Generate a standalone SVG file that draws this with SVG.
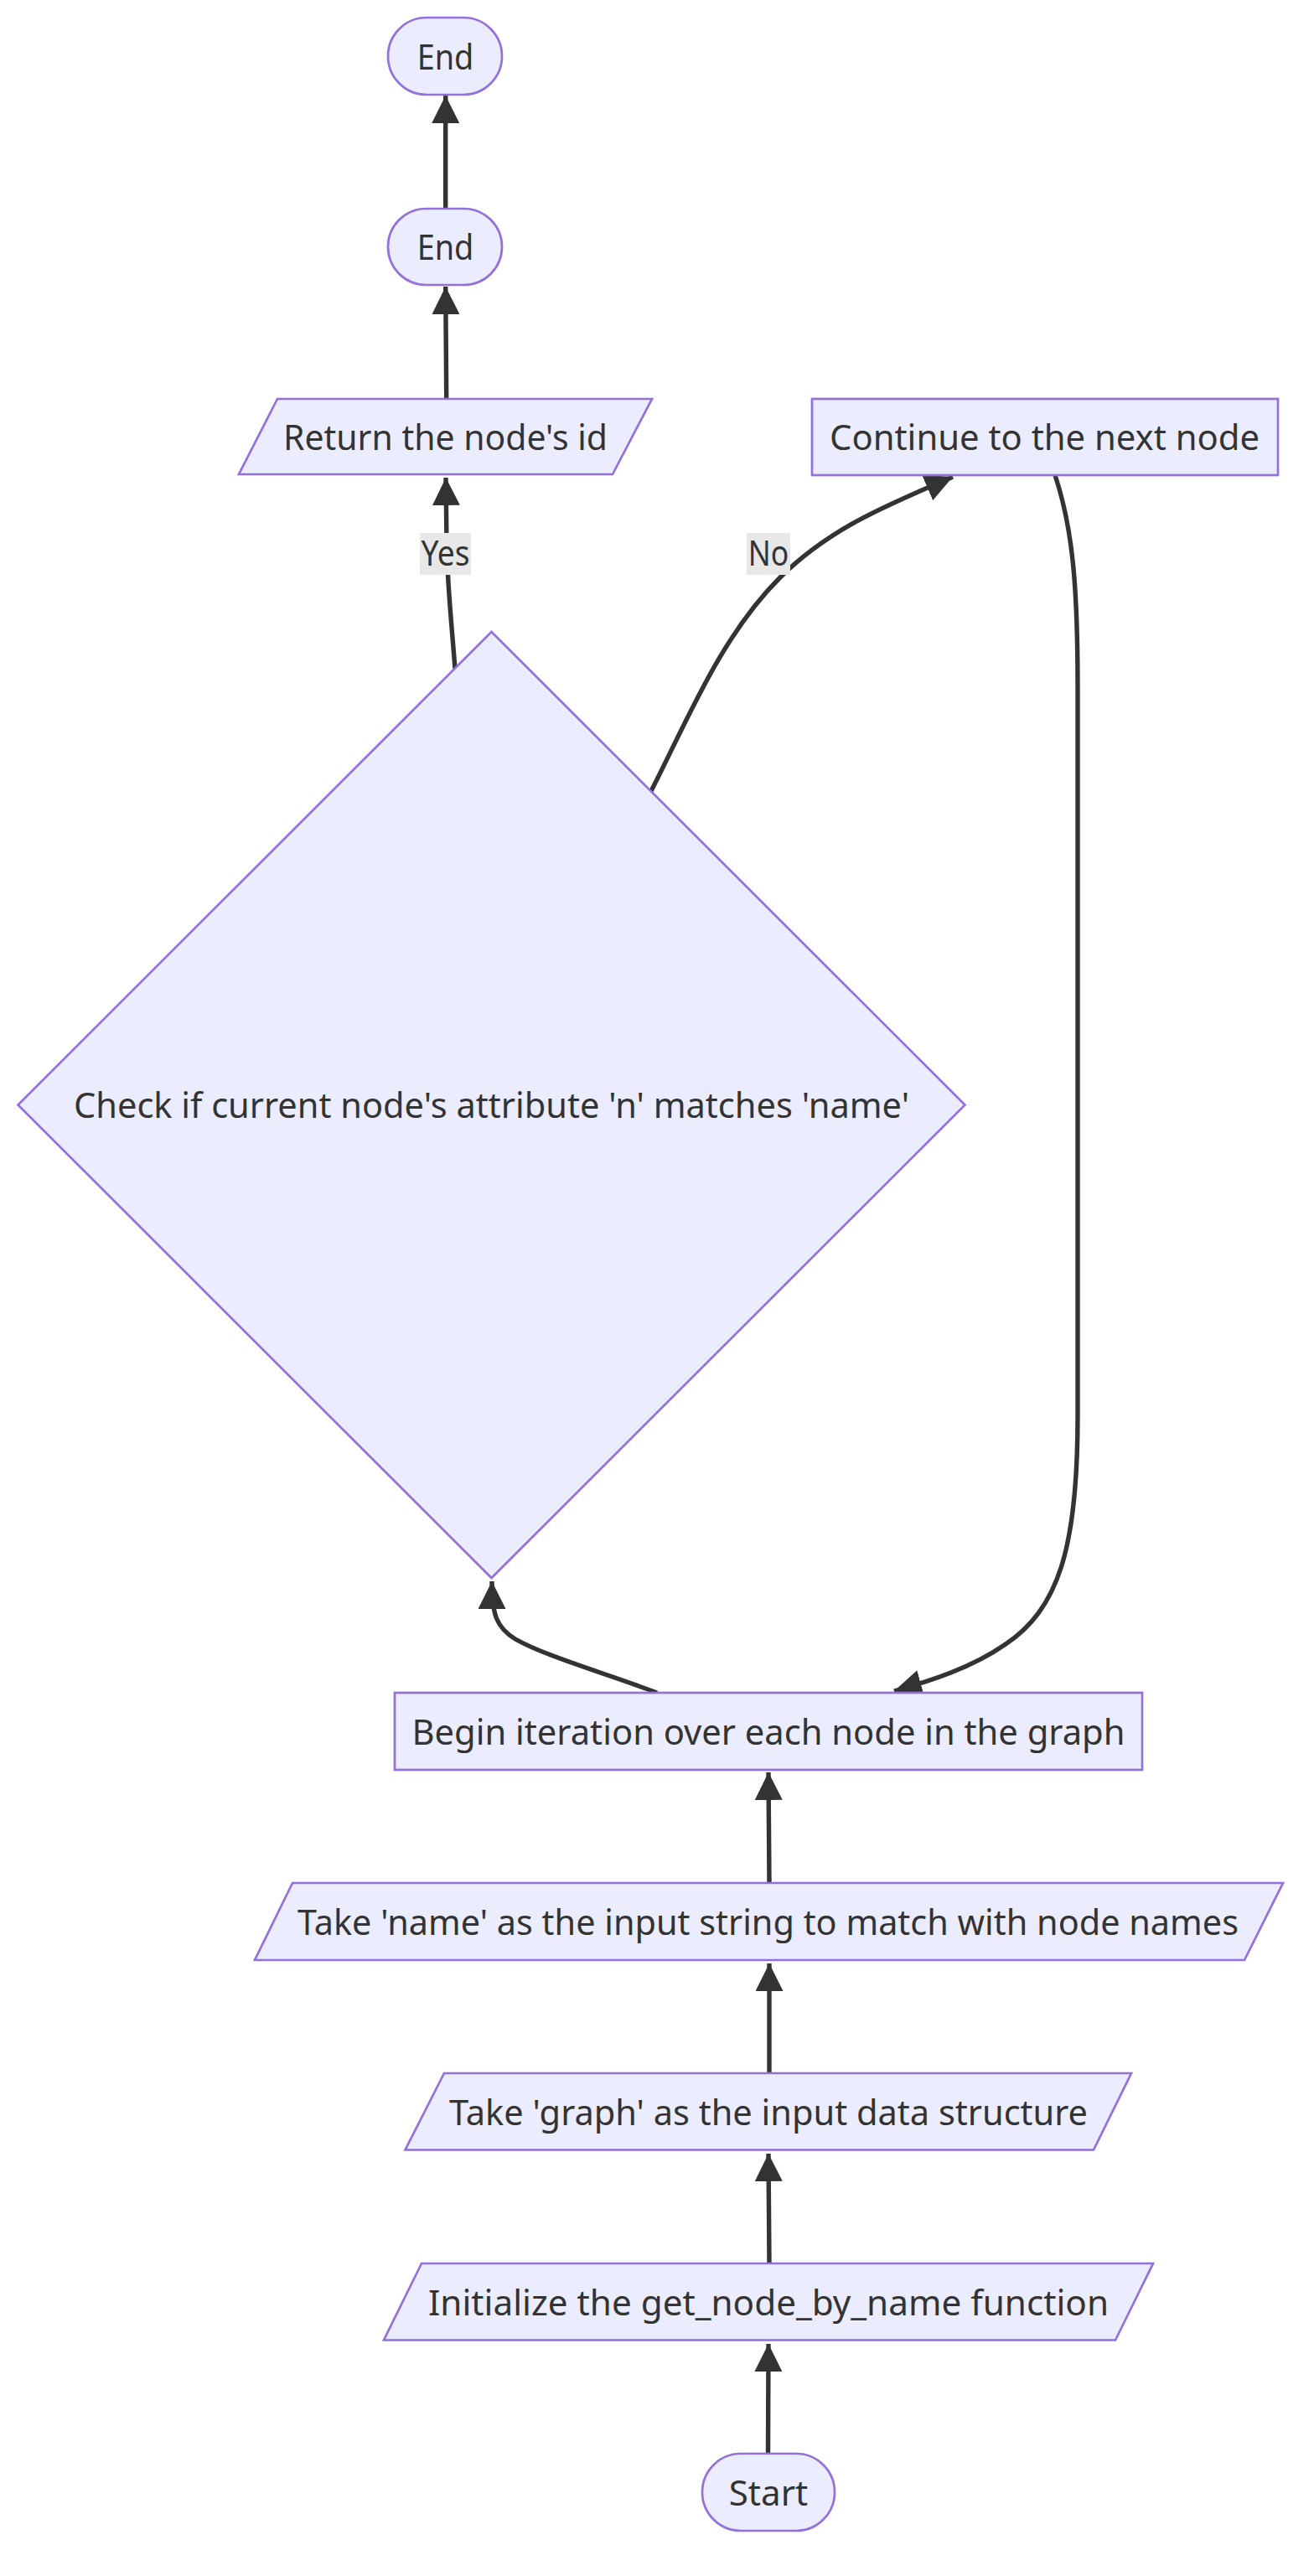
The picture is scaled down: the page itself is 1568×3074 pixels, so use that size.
<svg xmlns="http://www.w3.org/2000/svg" width="1568" height="3074" viewBox="0 0 1568 3074">
<style>
.node{fill:#ECECFF;stroke:#9370DB;stroke-width:2.7}
.lbl{font-family:"Noto Sans","DejaVu Sans",sans-serif;font-size:42px;fill:#333333;text-anchor:middle}
.edge{fill:none;stroke:#333333;stroke-width:5.4}
.elbg{fill:#e8e8e8}
</style>
<defs>
<marker id="arrow" viewBox="0 0 10 10" refX="10" refY="5" markerUnits="userSpaceOnUse" markerWidth="33" markerHeight="33" orient="auto">
<path d="M0,0 L10,5 L0,10 z" fill="#333333"/>
</marker>
</defs>
<rect width="1568" height="3074" fill="#ffffff"/>
<g id="edges">
<path class="edge" d="M916.5,2928 L917,2797" marker-end="url(#arrow)"/>
<path class="edge" d="M918,2701 L917,2570" marker-end="url(#arrow)"/>
<path class="edge" d="M918,2474 L918,2343" marker-end="url(#arrow)"/>
<path class="edge" d="M918,2247 L917,2115" marker-end="url(#arrow)"/>
<path class="edge" d="M784,2020 C720,1996 650,1976 615,1956 C592,1942 587,1926 587,1887" marker-end="url(#arrow)"/>
<path class="edge" d="M543,798 C539,745 534,700 533,650 L532,570" marker-end="url(#arrow)"/>
<path class="edge" d="M777,944 C820,860 860,760 930,690 C990,630 1060,602 1137,569" marker-end="url(#arrow)"/>
<path class="edge" d="M1259,567 C1280,630 1286,700 1286,820 L1286,1690 C1286,1850 1262,1920 1200,1962 C1160,1990 1110,2006 1067,2018" marker-end="url(#arrow)"/>
<path class="edge" d="M532.7,476 L531.7,342" marker-end="url(#arrow)"/>
<path class="edge" d="M531.7,249 L531.7,114" marker-end="url(#arrow)"/>
<g id="label-yes">
<rect class="elbg" x="501" y="636" width="61" height="50"/>
<text class="lbl" x="531.5" y="675" textLength="58" lengthAdjust="spacingAndGlyphs">Yes</text>
</g>
<g id="label-no">
<rect class="elbg" x="891" y="636" width="52" height="50"/>
<text class="lbl" x="917" y="675" textLength="48.5" lengthAdjust="spacingAndGlyphs">No</text>
</g>
</g>
<g id="end1">
<rect class="node" x="463" y="21" width="136" height="92" rx="46" ry="46"/>
<text class="lbl" x="531.5" y="82.5" textLength="67.6" lengthAdjust="spacingAndGlyphs">End</text>
</g>
<g id="end2">
<rect class="node" x="463" y="249" width="136" height="91" rx="45.5" ry="45.5"/>
<text class="lbl" x="531.5" y="310" textLength="67.6" lengthAdjust="spacingAndGlyphs">End</text>
</g>
<g id="return">
<polygon class="node" points="331,476 778,476 731,566 285,566"/>
<text class="lbl" x="531.5" y="536.5" textLength="387" lengthAdjust="spacingAndGlyphs">Return the node's id</text>
</g>
<g id="continue">
<rect class="node" x="969" y="476" width="556" height="91"/>
<text class="lbl" x="1246.5" y="537" textLength="513" lengthAdjust="spacingAndGlyphs">Continue to the next node</text>
</g>
<g id="check">
<polygon class="node" points="586.5,754 1151.5,1318.5 586.5,1883 21.5,1318.5"/>
<text class="lbl" x="586.5" y="1334" textLength="997" lengthAdjust="spacingAndGlyphs">Check if current node's attribute 'n' matches 'name'</text>
</g>
<g id="begin">
<rect class="node" x="471" y="2020" width="892" height="92"/>
<text class="lbl" x="917" y="2081.5" textLength="851" lengthAdjust="spacingAndGlyphs">Begin iteration over each node in the graph</text>
</g>
<g id="takename">
<polygon class="node" points="349,2247 1531,2247 1485,2339 304,2339"/>
<text class="lbl" x="916.5" y="2308.5" textLength="1123" lengthAdjust="spacingAndGlyphs">Take 'name' as the input string to match with node names</text>
</g>
<g id="takegraph">
<polygon class="node" points="530,2474 1350,2474 1305,2565.5 483.5,2565.5"/>
<text class="lbl" x="917" y="2535.5" textLength="762" lengthAdjust="spacingAndGlyphs">Take 'graph' as the input data structure</text>
</g>
<g id="init">
<polygon class="node" points="503,2701 1376,2701 1331,2792.5 458,2792.5"/>
<text class="lbl" x="917" y="2762.5" textLength="812" lengthAdjust="spacingAndGlyphs">Initialize the get_node_by_name function</text>
</g>
<g id="start">
<rect class="node" x="838" y="2928" width="158" height="92" rx="46" ry="46"/>
<text class="lbl" x="917" y="2989.5" textLength="94.5" lengthAdjust="spacingAndGlyphs">Start</text>
</g>
</svg>
